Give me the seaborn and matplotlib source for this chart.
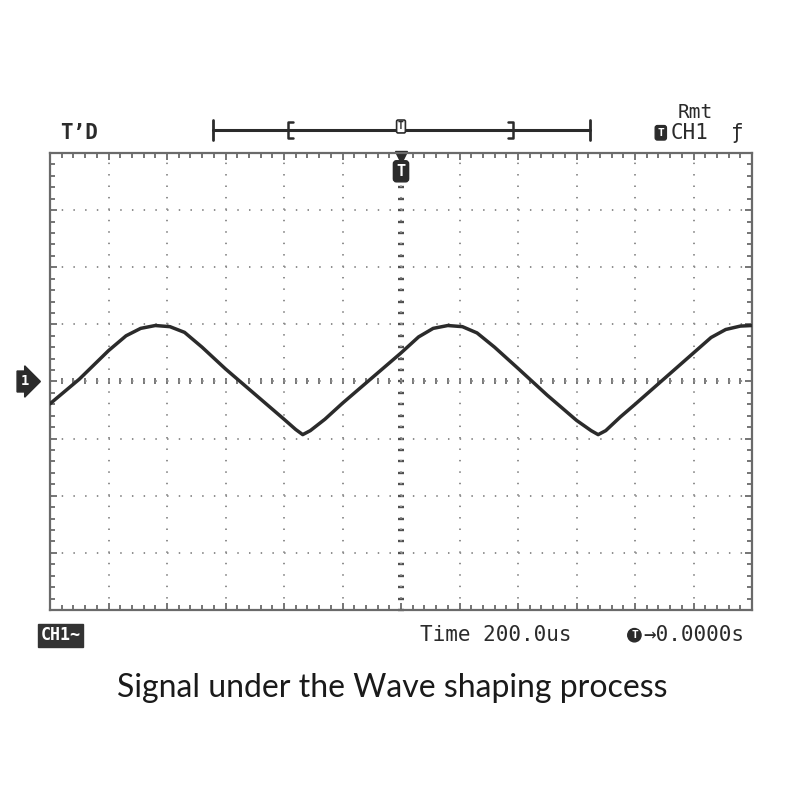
import numpy as np
import pandas as pd
import seaborn as sns

import matplotlib.pyplot as plt
from matplotlib.ticker import MultipleLocator

# screen is 12 x 8 divisions, values in divisions
trace_x = [0.0, 0.5, 1.0, 1.3, 1.55, 1.8, 2.05, 2.3, 2.6, 3.0, 3.5, 4.0, 4.2, 4.32,
           4.45, 4.7, 5.0, 5.5, 6.0, 6.3, 6.55, 6.8, 7.05, 7.3, 7.6, 8.0, 8.5, 9.0,
           9.25, 9.37, 9.5, 9.75, 10.0, 10.5, 11.0, 11.3, 11.55, 11.8, 12.0]
trace_y = [-0.39, 0.04, 0.54, 0.80, 0.93, 0.98, 0.96, 0.86, 0.60, 0.22, -0.22, -0.66,
           -0.84, -0.93, -0.86, -0.66, -0.38, 0.06, 0.50, 0.78, 0.93, 0.98, 0.96, 0.85,
           0.60, 0.23, -0.24, -0.68, -0.86, -0.93, -0.86, -0.62, -0.40, 0.05, 0.50,
           0.77, 0.91, 0.97, 0.98]

memory_bar = (2.79, 9.23)     # full record bar (divisions)
view_window = (4.07, 7.91)    # bracketed visible part
trigger_pos = 6.0
ch1_level = 0.0

top_left_label = "T\u2019D"
mode_label = "Rmt"
trig_source = "CH1"
trig_slope = "\u0192"
ch_label = "CH1~"
time_label = "Time 200.0us"
delay_label = "\u21920.0000s"
caption = "Signal under the Wave shaping process"

sns.set_style("white")
plt.rcParams['font.family'] = ['DejaVu Sans Mono', 'DejaVu Sans']

ink = "#2b2b2b"
frame = "#6a6a6a"
dots = "#8e8e8e"

fig = plt.figure(figsize=(8, 8), dpi=100)
ax = fig.add_axes([0.0625, 0.2375, 0.8775, 0.57125])

df = pd.DataFrame({"t": trace_x, "v": trace_y})
sns.lineplot(data=df, x="t", y="v", ax=ax, color=ink, lw=2.5, sort=False,
             estimator=None, zorder=5)

ax.set_xlim(0, 12)
ax.set_ylim(-4, 4)
ax.set_xlabel("")
ax.set_ylabel("")
ax.xaxis.set_major_locator(MultipleLocator(1))
ax.xaxis.set_minor_locator(MultipleLocator(0.2))
ax.yaxis.set_major_locator(MultipleLocator(1))
ax.yaxis.set_minor_locator(MultipleLocator(0.2))

# dotted graticule, dots land on every minor division
ax.grid(axis='x', which='major', color=dots, lw=1.4, linestyle=(0, (0.75, 5.13)))
ax.grid(axis='y', which='major', color=dots, lw=1.4, linestyle=(0, (0.75, 5.27)))

for s in ax.spines.values():
    s.set_color(frame)
    s.set_linewidth(1.6)
ax.tick_params(which='both', direction='in', top=True, right=True, bottom=True,
               left=True, color=frame, width=1.3, labelbottom=False, labelleft=False)
ax.tick_params(which='major', length=5)
ax.tick_params(which='minor', length=3.5)

# centre axes with ticks
cx = ax.secondary_xaxis(0.5)
cx.xaxis.set_major_locator(MultipleLocator(1))
cx.xaxis.set_minor_locator(MultipleLocator(0.2))
cx.tick_params(which='both', direction='inout', length=5, width=1.4, color="#777777",
               labeltop=False, labelbottom=False)
cx.spines[:].set_visible(False)

cy = ax.secondary_yaxis(0.5)
cy.yaxis.set_major_locator(MultipleLocator(1))
cy.yaxis.set_minor_locator(MultipleLocator(0.2))
cy.tick_params(which='both', direction='inout', length=5, width=1.7, color="#505050",
               labelleft=False, labelright=False)
cy.spines[:].set_visible(False)

# record bar above the screen
xt = ax.get_xaxis_transform()
ax.plot(memory_bar, [1.0505, 1.0505], color=ink, lw=2.2, transform=xt, clip_on=False)
for xb in memory_bar:
    ax.plot([xb, xb], [1.028, 1.072], color=ink, lw=2.0, transform=xt, clip_on=False)
for xb, sgn in zip(view_window, (1, -1)):
    ax.plot([xb + sgn * 0.08, xb, xb, xb + sgn * 0.08], [1.068, 1.068, 1.032, 1.032],
            color=ink, lw=1.8, transform=xt, clip_on=False)

# trigger markers
ax.text(trigger_pos, 1.058, "T", transform=xt, ha='center', va='center', fontsize=7,
        fontweight='bold', color=ink,
        bbox=dict(boxstyle="round,pad=0.15", fc="white", ec=ink, lw=1.2))
ax.text(trigger_pos, 0.96, "T", transform=xt, ha='center', va='center', fontsize=11,
        fontweight='bold', color="white",
        bbox=dict(boxstyle="round,pad=0.2", fc=ink, ec=ink))
ax.plot([trigger_pos], [0.992], marker='v', ms=8, color=ink, transform=xt, clip_on=False)

# channel 1 level marker
yt = ax.get_yaxis_transform()
ax.text(-0.036, ch1_level, "1", transform=yt, ha='center', va='center', fontsize=10,
        fontweight='bold', color="white",
        bbox=dict(boxstyle="rarrow,pad=0.25", fc=ink, ec=ink))

# status texts
fig.text(0.075, 0.834, top_left_label, fontsize=15, fontweight='bold', color=ink,
         va='center', ha='left')
fig.text(0.869, 0.859, mode_label, fontsize=14, color=ink, va='center', ha='center')
fig.text(0.826, 0.834, "T", fontsize=8, fontweight='bold', color="white", va='center',
         ha='center', bbox=dict(boxstyle="round,pad=0.2", fc=ink, ec=ink))
fig.text(0.838, 0.834, trig_source, fontsize=15, color=ink, va='center', ha='left')
fig.text(0.922, 0.834, trig_slope, fontsize=15, color=ink, va='center', ha='center')

fig.text(0.076, 0.206, ch_label, fontsize=12, fontweight='bold', color="white",
         va='center', ha='center',
         bbox=dict(boxstyle="square,pad=0.15", fc="#333333", ec="#333333"))
fig.text(0.525, 0.206, time_label, fontsize=15, color=ink, va='center', ha='left')
fig.text(0.793, 0.206, "T", fontsize=8, fontweight='bold', color="white", va='center',
         ha='center', bbox=dict(boxstyle="circle,pad=0.15", fc=ink, ec=ink))
fig.text(0.931, 0.206, delay_label, fontsize=15, color=ink, va='center', ha='right')

fig.text(0.49, 0.14, caption, fontsize=23, family=['Lato', 'DejaVu Sans'],
         color="#1a1a1a", va='center', ha='center')

fig.savefig("out.png", dpi=100, facecolor="white")
